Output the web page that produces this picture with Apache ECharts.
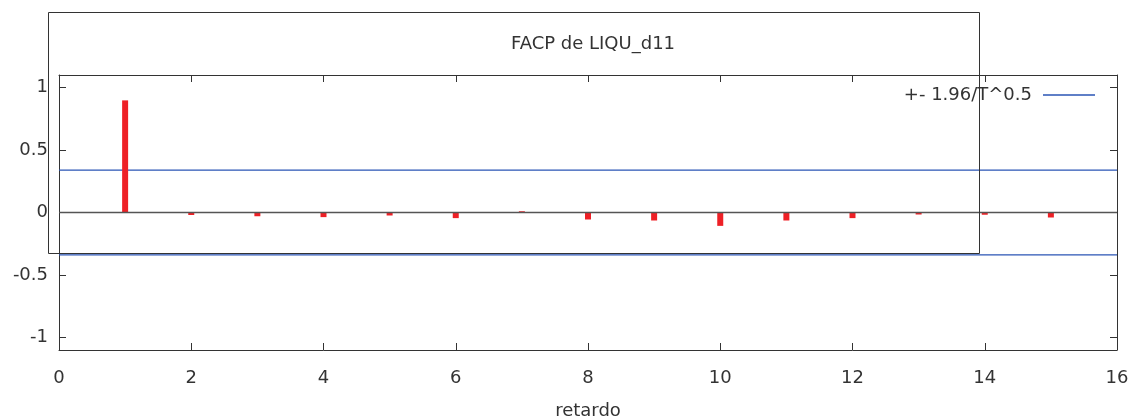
<!DOCTYPE html>
<html>
<head>
<meta charset="utf-8">
<script src="https://cdn.jsdelivr.net/npm/echarts@6/dist/echarts.min.js"></script>
<style>
  html, body { margin: 0; padding: 0; background: #fff; }
  #chart { width: 1135px; height: 419px; }
</style>
</head>
<body>
<div id="chart"></div>
<script>
const lags = [1, 2, 3, 4, 5, 6, 7, 8, 9, 10, 11, 12, 13, 14, 15];
const pacf = [0.897, -0.02, -0.03, -0.037, -0.024, -0.045, 0.01, -0.056, -0.064, -0.107, -0.064, -0.045, -0.016, -0.018, -0.04];
const band = 0.339;
const xRange = [0, 16];
const yRange = [-1.1, 1.1];
const yTicks = [-1, -0.5, 0, 0.5, 1];

const chart = echarts.init(document.getElementById("chart"));
const font = "DejaVu Sans";
const textColor = "#333";
const blue = "#2a55b5";

const tickStyle = { inside: true, length: 7, lineStyle: { color: "#333" } };
const lineStyle = { color: "#333", width: 1 };

chart.setOption({
  animation: false,
  textStyle: { fontFamily: font },
  title: {
    text: "FACP de LIQU_d11",
    left: 588,
    top: 30,
    textAlign: "center",
    textStyle: { fontFamily: font, fontSize: 18, fontWeight: "normal", color: textColor }
  },
  legend: {
    orient: "horizontal",
    right: 35,
    top: 81,
    align: "right",
    itemWidth: 52,
    itemHeight: 1.3,
    itemGap: 0,
    icon: "rect",
    textStyle: { fontFamily: font, fontSize: 18, color: textColor, padding: [0, 6, 0, 0] },
    data: [{ name: "+- 1.96/T^0.5", itemStyle: { color: blue } }]
  },
  grid: { left: 59, right: 18, top: 75, bottom: 69, containLabel: false, outerBoundsMode: "none" },
  xAxis: [
    {
      type: "value",
      min: xRange[0],
      max: xRange[1],
      interval: 2,
      name: "retardo",
      nameLocation: "middle",
      nameGap: 52,
      nameTextStyle: { fontFamily: font, fontSize: 18, color: textColor },
      axisLine: { show: true, onZero: false, lineStyle },
      axisTick: tickStyle,
      axisLabel: { fontFamily: font, fontSize: 18, color: textColor, margin: 19 },
      splitLine: { show: false }
    },
    {
      type: "value",
      position: "top",
      min: xRange[0],
      max: xRange[1],
      interval: 2,
      axisLine: { show: true, onZero: false, lineStyle },
      axisTick: tickStyle,
      axisLabel: { show: false },
      splitLine: { show: false }
    }
  ],
  yAxis: [
    {
      type: "value",
      min: yRange[0],
      max: yRange[1],
      axisLine: { show: true, onZero: false, lineStyle },
      axisTick: { ...tickStyle, customValues: yTicks },
      axisLabel: { fontFamily: font, fontSize: 18, color: textColor, margin: 11, customValues: yTicks },
      splitLine: { show: false }
    },
    {
      type: "value",
      position: "right",
      min: yRange[0],
      max: yRange[1],
      axisLine: { show: true, onZero: false, lineStyle },
      axisTick: { ...tickStyle, customValues: yTicks },
      axisLabel: { show: false },
      splitLine: { show: false }
    }
  ],
  series: [
    {
      name: "+- 1.96/T^0.5",
      type: "line",
      symbol: "none",
      lineStyle: { color: blue, width: 1.2 },
      itemStyle: { color: blue },
      data: [[xRange[0], band], [xRange[1], band]],
      z: 3
    },
    {
      name: "+- 1.96/T^0.5",
      type: "line",
      symbol: "none",
      lineStyle: { color: blue, width: 1.2 },
      itemStyle: { color: blue },
      data: [[xRange[0], -band], [xRange[1], -band]],
      z: 3
    },
    {
      name: "FACP",
      type: "bar",
      barWidth: 6,
      itemStyle: { color: "#ee2026" },
      data: lags.map((l, i) => [l, pacf[i]]),
      z: 4,
      markLine: {
        silent: true,
        symbol: "none",
        label: { show: false },
        lineStyle: { color: "#555", width: 1.3, type: "solid" },
        data: [{ yAxis: 0 }],
        z: 5
      }
    }
  ],
  graphic: [
    {
      type: "rect",
      shape: { x: 48.5, y: 12.5, width: 931, height: 241 },
      style: { fill: "none", stroke: "#333", lineWidth: 1 },
      z: 100
    }
  ]
});
</script>
</body>
</html>
